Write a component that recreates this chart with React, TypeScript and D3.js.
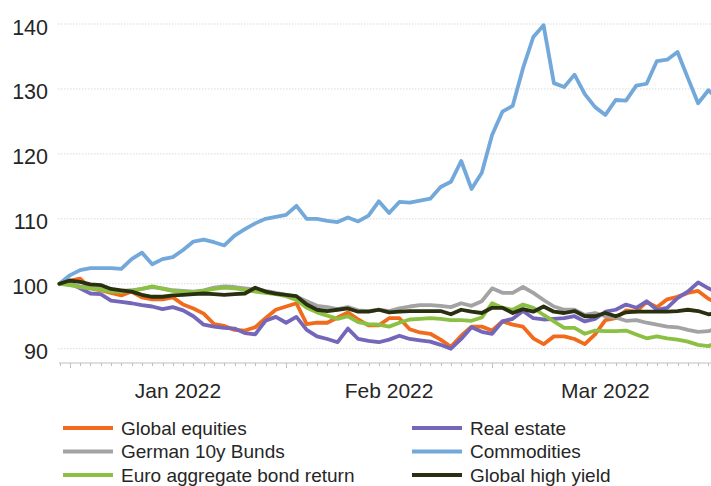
import { useEffect, useRef } from "react";
import * as d3 from "d3";

// business days, 31 Dec 2021 .. 31 Mar 2022 (65 points)
const startDate = new Date(2021, 11, 31);
const endDate = new Date(2022, 2, 31);
const dates: Date[] = d3.timeDay
  .range(startDate, d3.timeDay.offset(endDate, 1))
  .filter((d) => d.getDay() !== 0 && d.getDay() !== 6);

const globalEquities = [
  100, 100.5, 100.8, 99.3, 99.0, 98.6, 98.2, 98.8, 97.9, 97.6, 97.6, 97.9, 96.8, 96.2, 95.4, 93.8, 93.5,
  92.9, 92.8, 93.3, 94.7, 96.0, 96.5, 97.0, 93.8, 94.0, 94.0, 94.8, 95.6, 94.5, 93.6, 93.6, 94.7, 94.7,
  93.0, 92.5, 92.3, 91.4, 90.3, 92.0, 93.4, 93.4, 92.8, 94.2, 93.7, 93.4, 91.6, 90.7, 91.9, 91.9, 91.5,
  90.7, 92.2, 94.4, 94.7, 95.9, 95.7, 97.2, 96.4, 97.6, 98.0, 98.6, 98.9, 97.7, 96.8,
];
const realEstate = [
  100, 100.1, 99.3, 98.5, 98.4, 97.4, 97.2, 97.0, 96.7, 96.5, 96.1, 96.4, 95.9, 95.0, 93.7, 93.4, 93.2,
  93.1, 92.4, 92.2, 94.3, 94.9, 94.0, 94.9, 92.9, 91.9, 91.5, 91.0, 93.1, 91.5, 91.2, 91.0, 91.4, 92.0,
  91.5, 91.3, 91.1, 90.6, 90.0, 91.5, 93.3, 92.6, 92.3, 94.2, 94.6, 95.8, 94.7, 94.5, 94.6, 94.7, 95.0,
  94.2, 94.6, 95.7, 96.0, 96.8, 96.3, 97.3, 96.0, 96.3, 97.8, 98.8, 100.2, 99.3, 98.6,
];
const germanBunds = [
  100, 99.9, 99.6, 99.4, 99.2, 99.0, 98.9, 99.0, 99.2, 99.5, 99.3, 99.0, 98.9, 98.8, 99.0, 99.4, 99.6,
  99.5, 99.3, 99.1, 98.9, 98.6, 98.3, 98.0, 97.3, 96.6, 96.4, 96.1, 96.4, 95.9, 95.8, 96.0, 95.8, 96.2,
  96.5, 96.7, 96.7, 96.6, 96.4, 97.0, 96.6, 97.3, 99.3, 98.6, 98.6, 99.5, 98.6, 97.5, 96.5, 96.0, 96.0,
  95.2, 95.5, 95.0, 94.8, 94.3, 94.4, 94.0, 93.7, 93.4, 93.3, 92.9, 92.6, 92.7, 93.3,
];
const commodities = [
  100, 101.3, 102.1, 102.4, 102.4, 102.4, 102.3, 103.8, 104.8, 103.0, 103.8, 104.1, 105.2, 106.5, 106.8,
  106.4, 105.9, 107.4, 108.4, 109.3, 110.0, 110.3, 110.6, 112.0, 110.0, 110.0, 109.7, 109.5, 110.2, 109.6,
  110.5, 112.7, 110.9, 112.6, 112.5, 112.8, 113.1, 114.9, 115.7, 118.9, 114.6, 117.1, 122.9, 126.5, 127.4,
  133.2, 138.0, 139.8, 130.9, 130.3, 132.2, 129.2, 127.2, 126.0, 128.3, 128.2, 130.5, 130.8, 134.3, 134.5,
  135.7, 131.7, 127.8, 129.8, 128.3,
];
const euroAggregate = [
  100, 99.8, 99.5, 99.3, 99.1, 98.8, 98.8, 98.9, 99.2, 99.6, 99.2, 98.9, 98.8, 98.7, 98.9, 99.2, 99.4,
  99.3, 99.1, 98.8, 98.6, 98.4, 98.1, 97.5, 96.3, 95.6, 95.1, 94.6, 95.0, 94.1, 93.8, 93.7, 93.4, 94.0,
  94.5, 94.6, 94.7, 94.6, 94.4, 94.4, 94.3, 94.8, 97.0, 96.3, 96.0, 96.8, 96.3, 95.2, 94.2, 93.2, 93.2,
  92.3, 92.8, 92.7, 92.7, 92.8, 92.2, 91.6, 91.9, 91.6, 91.4, 91.1, 90.6, 90.4, 91.0,
];
const globalHighYield = [
  100, 100.5, 100.3, 99.9, 99.8, 99.2, 99.0, 98.8, 98.3, 98.0, 98.0, 98.2, 98.3, 98.4, 98.5, 98.4, 98.3,
  98.4, 98.5, 99.4, 98.8, 98.5, 98.3, 98.1, 96.8, 96.0, 95.8, 96.0, 96.2, 95.7, 95.7, 96.0, 95.6, 95.7,
  95.8, 95.8, 95.8, 95.8, 95.3, 96.0, 95.7, 95.5, 96.3, 96.3, 95.5, 96.1, 95.7, 96.5, 95.7, 95.5, 95.8,
  95.0, 95.0, 95.5, 95.0, 95.6, 95.7, 95.7, 95.7, 95.7, 95.8, 96.0, 95.8, 95.3, 95.5,
];

const seriesNames = [
  "Global equities",
  "Real estate",
  "German 10y Bunds",
  "Commodities",
  "Euro aggregate bond return",
  "Global high yield",
];
const seriesValues = [globalEquities, realEstate, germanBunds, commodities, euroAggregate, globalHighYield];
const seriesColors = ["#f26a1b", "#7466b8", "#a3a3a3", "#72a8da", "#8cc043", "#28300f"];

const yTicks = [90, 100, 110, 120, 130, 140];

export default function App() {
  const ref = useRef<SVGSVGElement | null>(null);

  useEffect(() => {
    const svgEl = ref.current;
    if (!svgEl) return;
    const width = 711;
    const height = 486;
    const font = "'Liberation Sans', Arial, sans-serif";
    const textColor = "#262626";

    const svg = d3.select(svgEl);
    svg.selectAll("*").remove();
    svg.attr("width", width).attr("height", height);

    const idx = d3.range(dates.length);
    const x = d3.scaleLinear().domain([0, dates.length - 1]).range([59.5, 718.7]);
    const y = d3.scaleLinear().domain([87.8, 140]).range([363, 24]);

    // gridlines
    svg
      .append("g")
      .selectAll("line")
      .data(yTicks)
      .enter()
      .append("line")
      .attr("x1", 58)
      .attr("x2", width)
      .attr("y1", (d) => y(d))
      .attr("y2", (d) => y(d))
      .attr("stroke", "#d9d9d9")
      .attr("stroke-width", 1)
      .attr("stroke-dasharray", "1.5,1.5");

    // y labels
    svg
      .append("g")
      .selectAll("text")
      .data(yTicks)
      .enter()
      .append("text")
      .attr("x", 48)
      .attr("y", (d) => y(d) + 3)
      .attr("dy", "0.35em")
      .attr("text-anchor", "end")
      .attr("font-family", font)
      .attr("font-size", 21.5)
      .attr("fill", textColor)
      .text((d) => d);

    // x axis
    const axisY = y(87.8);
    svg
      .append("line")
      .attr("x1", 59)
      .attr("x2", width)
      .attr("y1", axisY)
      .attr("y2", axisY)
      .attr("stroke", "#bfbfbf")
      .attr("stroke-width", 1);

    const monthStart = (i: number) => i > 0 && dates[i].getMonth() !== dates[i - 1].getMonth();
    svg
      .append("g")
      .selectAll("line")
      .data(idx)
      .enter()
      .append("line")
      .attr("x1", (i) => Math.round(x(i)) + 0.5)
      .attr("x2", (i) => Math.round(x(i)) + 0.5)
      .attr("y1", axisY)
      .attr("y2", (i) => axisY + (monthStart(i) ? 5 : 3))
      .attr("stroke", "#bfbfbf")
      .attr("stroke-width", 1);

    // month labels
    const months = d3.groups(idx, (i) => dates[i].getMonth()).filter(([m]) => m !== 11);
    const monthFmt = d3.timeFormat("%b %Y");
    months.forEach(([, list], k) => {
      const first = list[0];
      const next = k < months.length - 1 ? months[k + 1][1][0] : list[list.length - 1];
      svg
        .append("text")
        .attr("x", x((first + next) / 2))
        .attr("y", 398)
        .attr("text-anchor", "middle")
        .attr("font-family", font)
        .attr("font-size", 21)
        .attr("fill", textColor)
        .text(monthFmt(dates[first]));
    });

    // lines
    const line = d3
      .line<number>()
      .x((_, i) => x(i))
      .y((d) => y(d));
    seriesValues.forEach((vals, s) => {
      svg
        .append("path")
        .datum(vals)
        .attr("d", line)
        .attr("fill", "none")
        .attr("stroke", seriesColors[s])
        .attr("stroke-width", 3.8)
        .attr("stroke-linejoin", "round")
        .attr("stroke-linecap", "round");
    });

    // legend (two columns, three rows)
    const legend = svg.append("g");
    seriesNames.forEach((name, s) => {
      const col = s % 2;
      const row = Math.floor(s / 2);
      const lx = col === 0 ? 63 : 412;
      const ly = 428 + row * 23.5;
      legend
        .append("line")
        .attr("x1", lx)
        .attr("x2", lx + 50)
        .attr("y1", ly)
        .attr("y2", ly)
        .attr("stroke", seriesColors[s])
        .attr("stroke-width", 4);
      legend
        .append("text")
        .attr("x", lx + 58)
        .attr("y", ly)
        .attr("dy", "0.35em")
        .attr("font-family", font)
        .attr("font-size", 19)
        .attr("fill", textColor)
        .text(name);
    });
  }, []);

  return <svg ref={ref} style={{ position: "absolute", left: 0, top: 0, display: "block" }} />;
}
